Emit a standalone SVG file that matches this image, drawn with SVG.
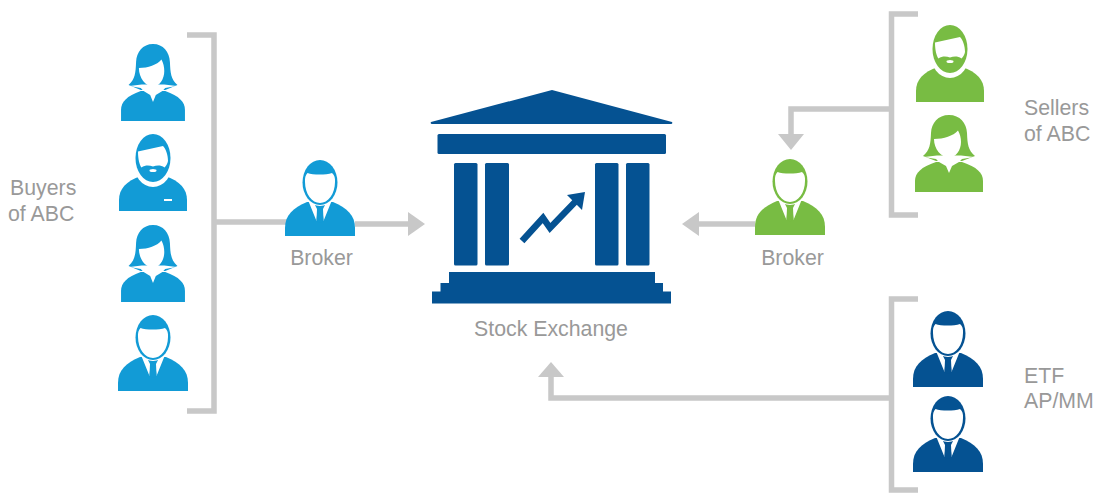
<svg xmlns="http://www.w3.org/2000/svg" width="1095" height="493" viewBox="0 0 1095 493">
<style>
text{font-family:"Liberation Sans",Arial,sans-serif;font-size:21.300px;fill:#999}
.c{fill:none;stroke:#c8c8c8;stroke-width:5.500}
.a{fill:#c8c8c8}
.b{color:#129bd6}.g{color:#78bc43}.n{color:#055292}
.bld{fill:#055292}
</style>
<defs>
<g id="man">
<path fill="currentColor" d="M-35 76V68C-35 55-27 48-13 42H13C27 48 35 55 35 68V76Z"/>
<path fill="#fff" d="M-12 40L-3.500 61L-2.500 49H2.500L3.500 61L12 40Z"/>
<path fill="currentColor" d="M-5 45H5L3 49L3.500 60L0 63L-3.500 60L-3 49Z"/>
<ellipse cx="0" cy="22.500" rx="18.500" ry="23.500" fill="#fff"/>
<ellipse cx="0" cy="22.500" rx="17.500" ry="22.500" fill="currentColor"/>
<path fill="#fff" d="M-15 22C-15.300 18-14.500 15-12.500 13C-7 15 6 15 12 13C14.500 15 15.300 18 15 22C15 34 8 43 0 43C-8 43-15 34-15 22Z"/>
</g>
<g id="woman">
<path fill="currentColor" d="M-34 77V66C-34 58-28 52-13 47H13C28 52 34 58 34 66V77Z"/>
<path fill="currentColor" d="M0 0C11 0 17.500 8 18 18C18.500 29 19 35 26 41L13 46H-13L-26 41C-19 35-18.500 29-18 18C-17.500 8-11 0 0 0Z"/>
<path fill="#fff" d="M-25 42L-12 40.500H12L25 42L13 44L10 47L3 51L0 58L-3 51L-10 47L-13 44Z"/>
<path fill="#fff" d="M-15 24C-5 24 4 21 9 15.500C11 19 12 23 12 27C12 35 7 42.500 0 42.500C-8 42.500-15 34-15 24Z"/>
</g>
<g id="beard">
<path fill="currentColor" d="M-34 77V66C-34 55-27 47-12 42H12C27 47 34 55 34 66V77Z"/>
<ellipse cx="0" cy="27" rx="20" ry="26" fill="#fff"/>
<ellipse cx="0" cy="24" rx="17.500" ry="24" fill="currentColor"/>
<path fill="#fff" d="M-15 17.500L10 12C13 15 15 21 15 27C14.500 30 13 32 11.500 33.500C8 31 4 31 0 32.500C-4 31-8 31-11.500 33.500C-13.500 31-15 25-15 17.500Z"/>
<ellipse cx="0" cy="36.500" rx="3.500" ry="1.500" fill="#fff"/>
</g>
</defs>
<g id="connectors">
<path class="c" d="M187 35H214V411H187M214 222H290M355 224H412"/>
<path class="c" d="M918 14H891.500V215H918M891.500 109H791V137"/>
<path class="c" d="M755 224H696"/>
<path class="c" d="M918 299H891.500V490H918M891.500 398H551V376"/>
<path class="a" d="M408 212L425 224L408 236Z"/>
<path class="a" d="M699 212L682 224L699 236Z"/>
<path class="a" d="M778 134H804L791 150Z"/>
<path class="a" d="M538 377H564L551 362Z"/>
</g>
<g id="buyers" class="b">
<use href="#woman" transform="translate(153 44) scale(.94 1)"/>
<use href="#beard" x="153" y="134"/>
<rect x="164" y="199" width="8" height="2" fill="#fff"/>
<use href="#woman" transform="translate(153 225) scale(.94 1)"/>
<use href="#man" x="153" y="315"/>
<text x="10" y="195">Buyers</text>
<text x="8" y="221">of ABC</text>
</g>
<g id="broker-left" class="b">
<use href="#man" x="320" y="160"/>
<text x="321.500" y="265" text-anchor="middle">Broker</text>
</g>
<g id="stock-exchange">
<path class="bld" d="M552 90L672 122Q673 124 671 124H432Q430 124 431 122Z"/>
<rect class="bld" x="437.500" y="134" width="228.500" height="20" rx="1.500"/>
<rect class="bld" x="454" y="163" width="23.500" height="102.500" rx="1.500"/>
<rect class="bld" x="485" y="163" width="24" height="102.500" rx="1.500"/>
<rect class="bld" x="595" y="163" width="23.500" height="102.500" rx="1.500"/>
<rect class="bld" x="626" y="163" width="23.500" height="102.500" rx="1.500"/>
<path class="bld" d="M449 272H655V283H663V291.500H671V303.500H432V291.500H440.500V283H449Z"/>
<path fill="none" stroke="#055292" stroke-width="6.500" d="M522 241L543 218L550 228L576 201"/>
<path class="bld" d="M567 195L585 192L582 210Z"/>
<text x="551" y="336" text-anchor="middle">Stock Exchange</text>
</g>
<g id="broker-right" class="g">
<use href="#man" x="790" y="159"/>
<text x="792.500" y="265" text-anchor="middle">Broker</text>
</g>
<g id="sellers" class="g">
<use href="#beard" x="950" y="25"/>
<use href="#woman" x="949" y="115"/>
<text x="1024" y="115">Sellers</text>
<text x="1024" y="141">of ABC</text>
</g>
<g id="etf" class="n">
<use href="#man" x="948" y="311"/>
<use href="#man" x="948" y="396"/>
<text x="1024" y="383">ETF</text>
<text x="1024" y="408">AP/MM</text>
</g>
</svg>
